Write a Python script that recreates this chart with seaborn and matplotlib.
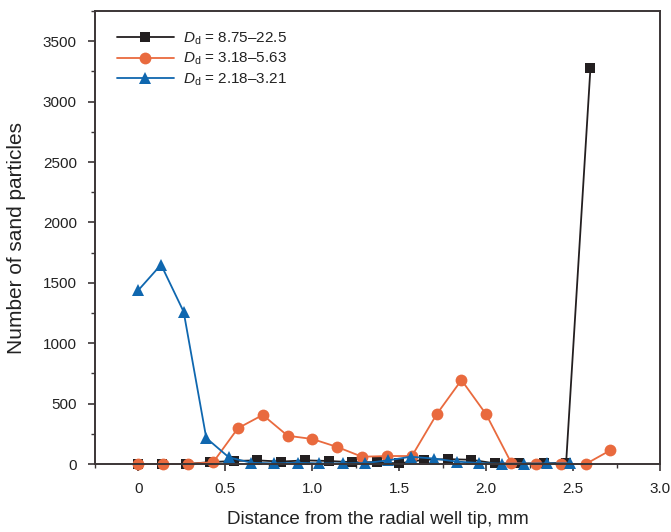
import numpy as np
import pandas as pd
import matplotlib
matplotlib.use("Agg")
import matplotlib.pyplot as plt
import seaborn as sns
from matplotlib.ticker import MultipleLocator

# ---- data ----
labels = ["8.75\u201322.5", "3.18\u20135.63", "2.18\u20133.21"]

x_black = [0.0, 0.137, 0.274, 0.41, 0.547, 0.684, 0.82, 0.958, 1.094, 1.23,
           1.37, 1.50, 1.64, 1.78, 1.915, 2.05, 2.19, 2.33, 2.46, 2.60]
y_black = [0, 0, 0, 15, 25, 30, 20, 30, 25, 15,
           15, 5, 35, 40, 35, 5, 5, 5, 10, 3280]

x_orange = [0.0, 0.143, 0.286, 0.43, 0.572, 0.715, 0.858, 1.0, 1.143, 1.286,
            1.43, 1.573, 1.715, 1.858, 2.0, 2.145, 2.288, 2.43, 2.573, 2.715]
y_orange = [0, 0, 0, 15, 296, 406, 234, 207, 141, 60,
            66, 66, 411, 695, 411, 8, 0, 0, 0, 114]

x_blue = [0.0, 0.13, 0.26, 0.39, 0.52, 0.65, 0.78, 0.915, 1.04, 1.175,
          1.305, 1.435, 1.565, 1.70, 1.83, 1.96, 2.09, 2.22, 2.35, 2.48]
y_blue = [1440, 1650, 1260, 215, 55, 10, 5, 10, 5, 5,
          8, 30, 60, 45, 20, 8, 2, 3, 5, 5]

xticks = [0, 0.5, 1.0, 1.5, 2.0, 2.5, 3.0]
xtick_labels = ["0", "0.5", "1.0", "1.5", "2.0", "2.5", "3.0"]
yticks = [0, 500, 1000, 1500, 2000, 2500, 3000, 3500]

sns.set_theme(style="ticks")
plt.rcParams['font.family'] = ['Liberation Sans', 'DejaVu Sans']
plt.rcParams['mathtext.fontset'] = 'custom'
plt.rcParams['mathtext.rm'] = 'Liberation Sans'
plt.rcParams['mathtext.it'] = 'Liberation Sans:italic'

fig = plt.figure(figsize=(6.71, 5.32), dpi=100)
ax = fig.add_axes([95/671, 1 - 464/532, (660 - 95)/671, (464 - 11)/532])

series = [
    (x_black, y_black, "#231f20", "s", 7.5),
    (x_orange, y_orange, "#e96a3e", "o", 8.5),
    (x_blue, y_blue, "#0f67af", "^", 9.0),
]
for (xs, ys, col, mk, ms), lab in zip(series, labels):
    df = pd.DataFrame({"x": xs, "y": ys})
    sns.lineplot(data=df, x="x", y="y", ax=ax, color=col, marker=mk,
                 markersize=ms, markeredgewidth=0, linewidth=1.3,
                 label=r"$\it{D}_{\rm d}$ = " + lab, clip_on=False,
                 sort=False, estimator=None)

ax.set_xlim(-0.25, 3.0)
ax.set_ylim(0, 3750)
ax.set_xticks(xticks)
ax.set_xticklabels(xtick_labels)
ax.set_yticks(yticks)
ax.xaxis.set_minor_locator(MultipleLocator(0.25))
ax.yaxis.set_minor_locator(MultipleLocator(250))

spine_col = "#3b3536"
for s in ax.spines.values():
    s.set_visible(True)
    s.set_color(spine_col)
    s.set_linewidth(1.4)
ax.tick_params(axis="both", which="major", direction="out", length=5,
               width=1.2, color=spine_col, labelsize=11, labelcolor="#222222",
               top=False, right=False, pad=8)
ax.tick_params(axis="both", which="minor", direction="out", length=3,
               width=1.0, color=spine_col, top=False, right=False)

ax.set_xlabel("Distance from the radial well tip, mm", fontsize=13.5,
              labelpad=11, color="#222222")
ax.set_ylabel("Number of sand particles", fontsize=15, labelpad=12,
              color="#222222")

leg = ax.legend(loc="upper left", bbox_to_anchor=(0.02, 0.98), frameon=False,
                fontsize=11, handlelength=3.7, handletextpad=0.6,
                labelspacing=0.25, borderaxespad=0.3)
for t in leg.get_texts():
    t.set_color("#222222")

fig.savefig("out.png", dpi=100)
